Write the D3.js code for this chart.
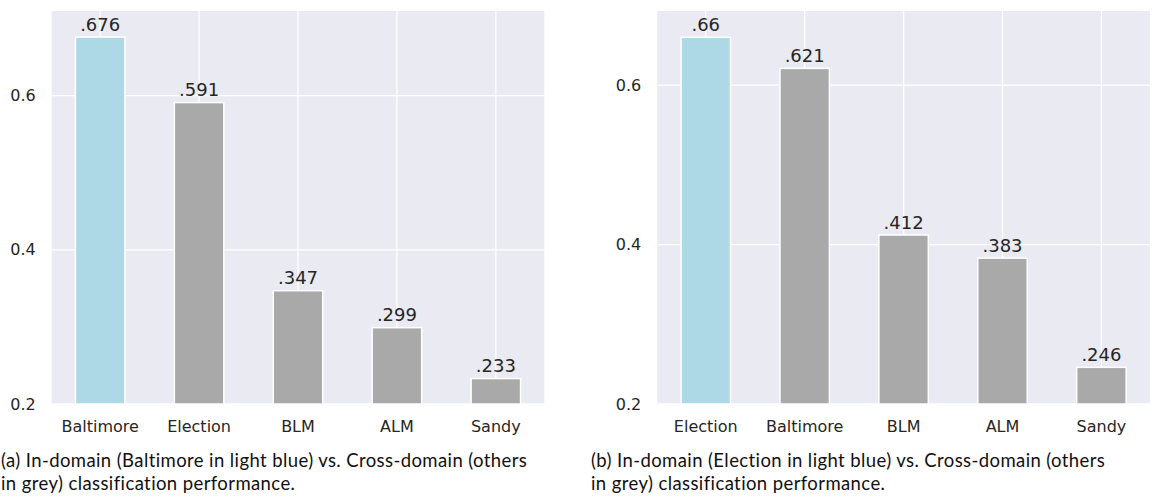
<!DOCTYPE html>
<html lang="en">
<head>
<meta charset="UTF-8">
<title>in-domain vs cross-domain</title>
<style>
    html, body { margin: 0; padding: 0; background: #fff; }
    svg { display: block; }
    .tick-label { font-family: "DejaVu Sans"; font-size: 16px; fill: #262626; }
    .value-label { font-family: "DejaVu Sans"; font-size: 18px; fill: #262626; }
    .caption { font-family: Lato; font-size: 18.5px; letter-spacing: 0.4px; fill: #111; }
</style>
<script src="https://cdn.jsdelivr.net/npm/d3@7"></script>
</head>
<body>
<svg id="chart" width="1154" height="502"></svg>
<script>
// panel (a)
const categoriesA = ["Baltimore", "Election", "BLM", "ALM", "Sandy"];
const valuesA = [0.676, 0.591, 0.347, 0.299, 0.233];
const labelsA = [".676", ".591", ".347", ".299", ".233"];
const captionA = ["(a) In-domain (Baltimore in light blue) vs. Cross-domain (others",
                  "in grey) classification performance."];

// panel (b)
const categoriesB = ["Election", "Baltimore", "BLM", "ALM", "Sandy"];
const valuesB = [0.66, 0.621, 0.412, 0.383, 0.246];
const labelsB = [".66", ".621", ".412", ".383", ".246"];
const captionB = ["(b) In-domain (Election in light blue) vs. Cross-domain (others",
                  "in grey) classification performance."];

const yTicks = [0.2, 0.4, 0.6];
const yTickLabels = ["0.2", "0.4", "0.6"];
const yMin = 0.2;

const svg = d3.select("#chart");

function drawPanel(offsetX, captionX, categories, values, labels, caption) {
    const left = 51.7, right = 544.3, top = 11, bottom = 404;

    const x = d3.scaleBand()
        .domain(categories)
        .range([left, right])
        .paddingInner(0.5)
        .paddingOuter(0.24);

    const y = d3.scaleLinear()
        .domain([yMin, d3.max(values) * 1.05])
        .range([bottom, top]);

    const g = svg.append("g").attr("transform", `translate(${offsetX},0)`);

    // background
    g.append("rect")
        .attr("x", left).attr("y", top)
        .attr("width", right - left).attr("height", bottom - top)
        .attr("fill", "#eaeaf2");

    // grid
    g.append("g").selectAll("line")
        .data(yTicks)
        .join("line")
        .attr("x1", left).attr("x2", right)
        .attr("y1", d => y(d)).attr("y2", d => y(d))
        .attr("stroke", "#fff").attr("stroke-width", 1.3);

    g.append("g").selectAll("line")
        .data(categories)
        .join("line")
        .attr("x1", d => x(d) + x.bandwidth() / 2).attr("x2", d => x(d) + x.bandwidth() / 2)
        .attr("y1", top).attr("y2", bottom)
        .attr("stroke", "#fff").attr("stroke-width", 1.3);

    // bars
    g.append("g").selectAll("rect")
        .data(values)
        .join("rect")
        .attr("x", (d, i) => x(categories[i]))
        .attr("y", d => y(d))
        .attr("width", x.bandwidth())
        .attr("height", d => y(yMin) - y(d))
        .attr("fill", (d, i) => i === 0 ? "#add8e6" : "#a9a9a9")
        .attr("stroke", "#fff")
        .attr("stroke-width", 1.5);

    // value labels
    g.append("g").selectAll("text")
        .data(values)
        .join("text")
        .attr("class", "value-label")
        .attr("text-anchor", "middle")
        .attr("x", (d, i) => x(categories[i]) + x.bandwidth() / 2)
        .attr("y", d => y(d) - 6.5)
        .text((d, i) => labels[i]);

    // y tick labels
    g.append("g").selectAll("text")
        .data(yTicks)
        .join("text")
        .attr("class", "tick-label")
        .attr("text-anchor", "end")
        .attr("dominant-baseline", "central")
        .attr("x", left - 16)
        .attr("y", d => y(d))
        .text((d, i) => yTickLabels[i]);

    // x tick labels
    g.append("g").selectAll("text")
        .data(categories)
        .join("text")
        .attr("class", "tick-label")
        .attr("text-anchor", "middle")
        .attr("x", d => x(d) + x.bandwidth() / 2)
        .attr("y", 432)
        .text(d => d);

    // caption, placed in page coordinates
    svg.append("g").selectAll("text")
        .data(caption)
        .join("text")
        .attr("class", "caption")
        .attr("x", captionX)
        .attr("y", (d, i) => 467 + i * 22.5)
        .text(d => d);
}

drawPanel(0, 1, categoriesA, valuesA, labelsA, captionA);
drawPanel(605.6, 591, categoriesB, valuesB, labelsB, captionB);
</script>
</body>
</html>
